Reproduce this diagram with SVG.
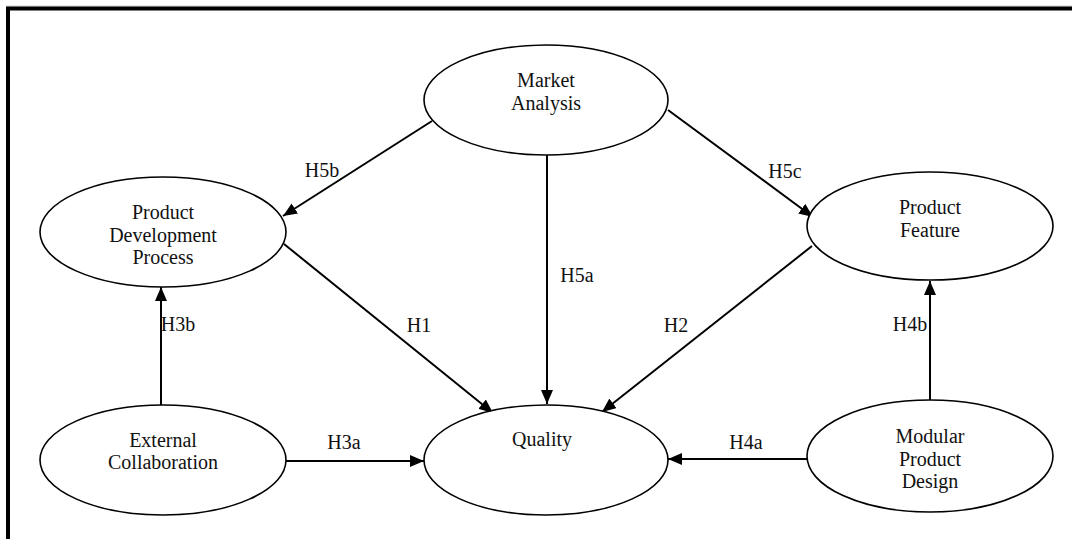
<svg xmlns="http://www.w3.org/2000/svg" width="1072" height="539" viewBox="0 0 1072 539">
  <style>
    .node ellipse { fill: #ffffff; stroke: #000000; stroke-width: 1.6; }
    .node text, .label { font-family: "Liberation Serif", "DejaVu Serif", serif; font-size: 20px; fill: #111111; text-anchor: middle; }
    .edge { stroke: #000000; stroke-width: 2; fill: none; marker-end: url(#arrow); }
  </style>
  <defs>
    <marker id="arrow" markerWidth="14" markerHeight="12" refX="14" refY="6" orient="auto" markerUnits="userSpaceOnUse">
      <path d="M0,0 L14,6 L0,12 Z" fill="#000000"/>
    </marker>
  </defs>
  <rect x="0" y="0" width="1072" height="539" fill="#ffffff"/>
  <!-- frame: top and left rules only -->
  <line x1="6" y1="6" x2="1072" y2="6" stroke="#cccccc" stroke-width="1"/>
  <path d="M8,539 L8,8.5 L1072,8.5" stroke="#000000" stroke-width="4" fill="none"/>

  <g id="connectors">
    <line class="edge" x1="432" y1="121" x2="283" y2="216"/>
    <line class="edge" x1="547" y1="155" x2="547" y2="404"/>
    <line class="edge" x1="668" y1="110" x2="813" y2="217"/>
    <line class="edge" x1="284" y1="244" x2="493" y2="413"/>
    <line class="edge" x1="812" y1="246" x2="602" y2="412"/>
    <line class="edge" x1="286" y1="461" x2="424" y2="461"/>
    <line class="edge" x1="808" y1="459" x2="668" y2="459"/>
    <line class="edge" x1="161" y1="405" x2="161" y2="287"/>
    <line class="edge" x1="930" y1="401" x2="930" y2="281"/>
    <text class="label" x="322" y="177">H5b</text>
    <text class="label" x="577" y="282">H5a</text>
    <text class="label" x="785" y="178">H5c</text>
    <text class="label" x="419" y="332">H1</text>
    <text class="label" x="676" y="332">H2</text>
    <text class="label" x="178" y="331">H3b</text>
    <text class="label" x="910" y="331">H4b</text>
    <text class="label" x="344" y="449">H3a</text>
    <text class="label" x="746" y="449">H4a</text>
  </g>

  <g id="market-analysis" class="node">
    <ellipse cx="546" cy="100" rx="122" ry="55"/>
    <text x="546" y="87">Market</text>
    <text x="546" y="110">Analysis</text>
  </g>
  <g id="product-development-process" class="node">
    <ellipse cx="163" cy="232" rx="123" ry="55"/>
    <text x="163" y="219">Product</text>
    <text x="163" y="242">Development</text>
    <text x="163" y="264">Process</text>
  </g>
  <g id="product-feature" class="node">
    <ellipse cx="930" cy="226" rx="123" ry="54"/>
    <text x="930" y="214">Product</text>
    <text x="930" y="237">Feature</text>
  </g>
  <g id="external-collaboration" class="node">
    <ellipse cx="163" cy="460" rx="123" ry="55"/>
    <text x="163" y="447">External</text>
    <text x="163" y="469">Collaboration</text>
  </g>
  <g id="quality" class="node">
    <ellipse cx="546" cy="460" rx="122" ry="55"/>
    <text x="542" y="446">Quality</text>
  </g>
  <g id="modular-product-design" class="node">
    <ellipse cx="930" cy="456" rx="123" ry="56"/>
    <text x="930" y="443">Modular</text>
    <text x="930" y="466">Product</text>
    <text x="930" y="488">Design</text>
  </g>
</svg>
